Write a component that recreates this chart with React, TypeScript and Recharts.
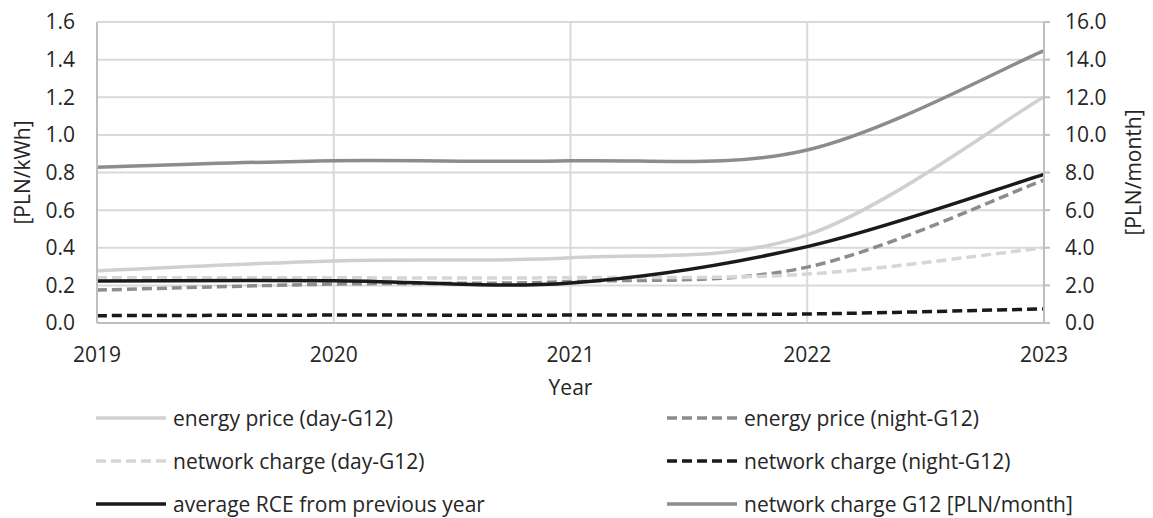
import { LineChart, Line, XAxis, YAxis, CartesianGrid, Legend, Label } from 'recharts';

const years = [2019, 2020, 2021, 2022, 2023];
const energyDay = [0.278, 0.33, 0.347, 0.468, 1.203];
const energyNight = [0.175, 0.207, 0.22, 0.297, 0.76];
const networkDay = [0.241, 0.24, 0.241, 0.26, 0.4];
const networkNight = [0.039, 0.042, 0.042, 0.048, 0.075];
const rceAvg = [0.223, 0.225, 0.213, 0.406, 0.79];
const networkG12 = [8.28, 8.63, 8.62, 9.2, 14.48];

const leftTicks = [0, 0.2, 0.4, 0.6, 0.8, 1.0, 1.2, 1.4, 1.6];
const rightTicks = [0, 2, 4, 6, 8, 10, 12, 14, 16];

const data = years.map((year, i) => ({
    year,
    energyDay: energyDay[i],
    energyNight: energyNight[i],
    networkDay: networkDay[i],
    networkNight: networkNight[i],
    rceAvg: rceAvg[i],
    networkG12: networkG12[i],
}));

const series = [
    { key: 'energyDay', name: 'energy price (day-G12)', color: '#d0d0d0', dash: undefined, axis: 'left' },
    { key: 'energyNight', name: 'energy price (night-G12)', color: '#8c8c8c', dash: '10 5', axis: 'left' },
    { key: 'networkDay', name: 'network charge (day-G12)', color: '#d6d6d6', dash: '10 5', axis: 'left' },
    { key: 'networkNight', name: 'network charge (night-G12)', color: '#1a1a1a', dash: '10 5', axis: 'left' },
    { key: 'rceAvg', name: 'average RCE from previous year', color: '#1a1a1a', dash: undefined, axis: 'left' },
    { key: 'networkG12', name: 'network charge G12 [PLN/month]', color: '#8c8c8c', dash: undefined, axis: 'right' },
];

// excel-like smoothing (catmull-rom through the points)
function smoothCurve(context: any) {
    let pts: number[][] = [];
    return {
        areaStart() {},
        areaEnd() {},
        lineStart() { pts = []; },
        point(x: number, y: number) { pts.push([+x, +y]); },
        lineEnd() {
            const n = pts.length;
            if (!n) return;
            context.moveTo(pts[0][0], pts[0][1]);
            for (let i = 0; i < n - 1; i++) {
                const p0 = pts[Math.max(0, i - 1)];
                const p1 = pts[i];
                const p2 = pts[i + 1];
                const p3 = pts[Math.min(n - 1, i + 2)];
                context.bezierCurveTo(
                    p1[0] + (p2[0] - p0[0]) / 6, p1[1] + (p2[1] - p0[1]) / 6,
                    p2[0] - (p3[0] - p1[0]) / 6, p2[1] - (p3[1] - p1[1]) / 6,
                    p2[0], p2[1],
                );
            }
        },
    };
}

const textColor = '#262626';
const fontSize = 21;

function LegendBox() {
    const rows = [25, 68, 111];
    const cols = [96, 667];
    return (
        <div style={{ position: 'relative', width: 1153, height: 125 }}>
            {series.map((s, i) => {
                const left = cols[i % 2];
                const top = rows[Math.floor(i / 2)];
                return (
                    <div key={s.key} style={{ position: 'absolute', left, top: top - 15, height: 30, display: 'flex', alignItems: 'center', whiteSpace: 'nowrap' }}>
                        <svg width={70} height={10} style={{ marginRight: 7 }}>
                            <line x1={0} y1={5} x2={70} y2={5} stroke={s.color} strokeWidth={3.5} strokeDasharray={s.dash} />
                        </svg>
                        <span style={{ fontSize, color: textColor, lineHeight: '30px' }}>{s.name}</span>
                    </div>
                );
            })}
        </div>
    );
}

export default function App() {
    return (
        <div style={{ position: 'absolute', left: 0, top: 0, width: 1153, height: 518, background: '#fff', fontFamily: '"Open Sans", sans-serif' }}>
            <LineChart width={1153} height={518} data={data} margin={{ top: 22, right: 0, bottom: 0, left: 0 }}>
                <CartesianGrid yAxisId="left" stroke="#d9d9d9" strokeWidth={2} />
                <XAxis
                    dataKey="year"
                    type="number"
                    domain={[2019, 2023]}
                    ticks={years}
                    height={70}
                    tickLine={false}
                    axisLine={{ stroke: '#bfbfbf', strokeWidth: 2 }}
                    tick={{ fill: textColor, fontSize }}
                    tickMargin={18}
                >
                    <Label value="Year" position="insideTop" offset={57} style={{ fill: textColor, fontSize }} />
                </XAxis>
                <YAxis
                    yAxisId="left"
                    domain={[0, 1.6]}
                    ticks={leftTicks}
                    tickFormatter={(v: number) => v.toFixed(1)}
                    width={97}
                    tickLine={false}
                    axisLine={{ stroke: '#bfbfbf', strokeWidth: 2 }}
                    tick={{ fill: textColor, fontSize }}
                    tickMargin={16}
                >
                    <Label value="[PLN/kWh]" angle={-90} position="insideLeft" offset={23} style={{ fill: textColor, fontSize, textAnchor: 'middle' }} />
                </YAxis>
                <YAxis
                    yAxisId="right"
                    orientation="right"
                    domain={[0, 16]}
                    ticks={rightTicks}
                    tickFormatter={(v: number) => v.toFixed(1)}
                    width={109}
                    tickLine={{ stroke: '#bfbfbf', strokeWidth: 2 }}
                    tickSize={6}
                    axisLine={{ stroke: '#bfbfbf', strokeWidth: 2 }}
                    tick={{ fill: textColor, fontSize }}
                    tickMargin={15}
                >
                    <Label value="[PLN/month]" angle={-90} position="insideRight" offset={19} style={{ fill: textColor, fontSize, textAnchor: 'middle' }} />
                </YAxis>
                <Legend verticalAlign="bottom" content={() => <LegendBox />} wrapperStyle={{ left: 0, bottom: 0, width: 1153 }} />
                {series.map((s) => (
                    <Line
                        key={s.key}
                        yAxisId={s.axis}
                        dataKey={s.key}
                        name={s.name}
                        type={smoothCurve as any}
                        stroke={s.color}
                        strokeWidth={3.5}
                        strokeDasharray={s.dash}
                        dot={false}
                        activeDot={false}
                        isAnimationActive={false}
                    />
                ))}
            </LineChart>
        </div>
    );
}
